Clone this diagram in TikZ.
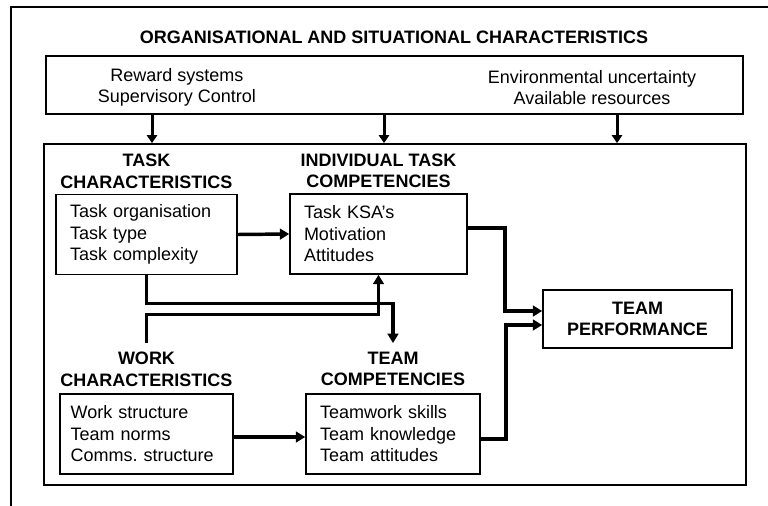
\documentclass[tikz,border=0pt]{standalone}
\usepackage{fontspec}
\setmainfont{Liberation Sans}
\usetikzlibrary{arrows.meta}

\begin{document}
\begin{tikzpicture}[x=0.75pt,y=-0.75pt,
  every node/.style={font=\fontsize{13.5}{16.1}\selectfont},
  head/.style={font=\fontsize{13.5}{16.1}\selectfont\bfseries,align=center,inner sep=6.5pt},
  frame/.style={draw,line width=1.2pt,inner sep=0pt},
  list/.style={draw,line width=1.2pt,align=left,inner xsep=10.5pt,inner ysep=0pt,minimum height=60pt},
  feed/.style={line width=2.25pt,-{Triangle[length=6pt,width=7.5pt]}},
  flow/.style={line width=2.6pt,-{Triangle[length=7pt,width=8pt]}}]
 \useasboundingbox (0,0) rectangle (768,506);
 \draw[line width=1.5pt](11,506)--(11,7)--(768,7);

 % organisation on top
 \node[head,inner sep=0pt] (title) at (394,37) {ORGANISATIONAL AND SITUATIONAL CHARACTERISTICS};
 \node[frame,minimum width=522.75pt,minimum height=43.5pt] (orgbox) at (394.5,85) {};
 \node[align=center] (rewardtxt) at (177,87.5) {Reward systems\\Supervisory Control};
 \node[align=center] (envtxt) at (592,87.5) {Environmental uncertainty\\Available resources};
 \node[frame,minimum width=526.5pt,minimum height=255.75pt] (mainbox) at (395,314.5) {};
 \foreach \x in {152,384,617}
  \draw[feed](orgbox.south -| \x,0)--(mainbox.north -| \x,0);

 % the four inputs
 \node[head] (taskhead) at (146.5,171.5) {TASK\\CHARACTERISTICS};
 \node[list,text width=114.75pt] (taskbox) at (146.5,234.5) {Task organisation\\Task type\\Task complexity};
 \node[head] (itchead) at (378.5,171) {INDIVIDUAL TASK\\COMPETENCIES};
 \node[list,text width=111.75pt] (itcbox) at (378.5,234) {Task KSA's\\Motivation\\Attitudes};
 \node[head] (workhead) at (146.5,369.5) {WORK\\CHARACTERISTICS};
 \node[list,inner xsep=8pt,text width=113.75pt] (workbox) at (146.5,434) {Work structure\\Team norms\\Comms.\ structure};
 \node[head] (tchead) at (393,369) {TEAM\\COMPETENCIES};
 \node[list,text width=109.5pt] (tcbox) at (393,434) {Teamwork skills\\Team knowledge\\Team attitudes};
 \node[head,draw,line width=1.2pt,inner sep=0pt,minimum width=141.75pt,minimum height=43.5pt] (perfbox) at (637.5,319) {TEAM\\PERFORMANCE};

 % links
 \draw[flow](taskbox.east)--(itcbox.west);
 \draw[flow]([yshift=-2.25pt]workbox.east)--([yshift=-2.25pt]tcbox.west);
 \draw[flow](taskbox.south)--++(0,28)-|(tchead.north);
 \draw[flow](workhead.north)--++(0,-29)-|(itcbox.south);
 \draw[flow]([yshift=4.5pt]itcbox.east)--++(37,0)|-([yshift=6pt]perfbox.west);
 \draw[flow]([yshift=-3.75pt]tcbox.east)--++(25,0)|-([yshift=-4.5pt]perfbox.west);
\end{tikzpicture}
\end{document}
